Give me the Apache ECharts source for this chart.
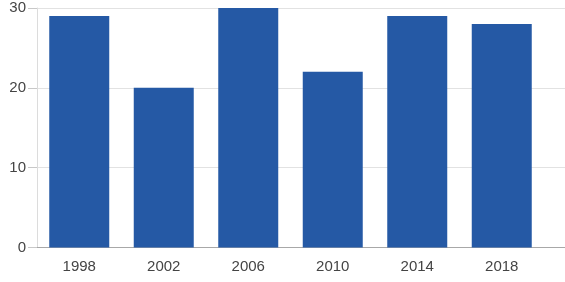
<!DOCTYPE html>
<html>
<head>
<meta charset="utf-8">
<script src="https://cdn.jsdelivr.net/npm/echarts@6/dist/echarts.min.js"></script>
<style>html,body{margin:0;padding:0;background:#fff;}#c{width:565px;height:282px;}</style>
</head>
<body>
<div id="c"></div>
<script>
var categories = ['1998', '2002', '2006', '2010', '2014', '2018'];
var values = [29, 20, 30, 22, 29, 28];
var yTicks = [0, 10, 20, 30];

var chart = echarts.init(document.getElementById('c'), null, {renderer: 'canvas'});
var font = 'Arial, "Liberation Sans", sans-serif';
chart.setOption({
  animation: false,
  grid: [
    {left: 37, right: 0, top: 8, bottom: 34.5},
    {left: 37, right: 21, top: 8, bottom: 34.5}
  ],
  xAxis: [
    {gridIndex: 0, type: 'value', min: 0, max: 1, show: true,
     axisLine: {show: true, lineStyle: {color: '#a8a8a8', width: 1}},
     axisTick: {show: false}, axisLabel: {show: false}, splitLine: {show: false}},
    {gridIndex: 1, type: 'category', data: categories,
     axisLine: {show: false}, axisTick: {show: false},
     axisLabel: {color: '#444', fontSize: 15, fontFamily: font, margin: 12}}
  ],
  yAxis: [
    {gridIndex: 0, type: 'value', min: yTicks[0], max: yTicks[yTicks.length - 1], interval: 10,
     axisLine: {show: true, lineStyle: {color: '#dcdcdc'}},
     axisTick: {show: true, length: 9, lineStyle: {color: '#c8c8c8'}},
     axisLabel: {color: '#444', fontSize: 15, fontFamily: font, margin: 11},
     splitLine: {show: true, lineStyle: {color: '#e2e2e2'}}},
    {gridIndex: 1, type: 'value', min: yTicks[0], max: yTicks[yTicks.length - 1], show: false}
  ],
  series: [{
    type: 'bar', xAxisIndex: 1, yAxisIndex: 1,
    data: values, barWidth: '71%',
    itemStyle: {color: '#2559a5'}
  }]
});
</script>
</body>
</html>
